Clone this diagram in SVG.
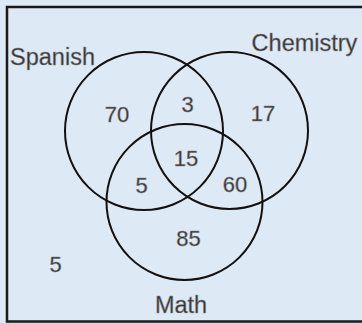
<svg xmlns="http://www.w3.org/2000/svg" width="362" height="323" viewBox="0 0 362 323">
<style>
.c{fill:none;stroke:#111;stroke-width:2}
.t{font-family:"Liberation Sans",Arial,sans-serif;font-size:22px;fill:#333;stroke:#8a8a8a;stroke-width:0.5;text-anchor:middle}
.l{font-size:23.5px}
</style>
<rect x="0" y="0" width="362" height="323" fill="#dde9f5"/>
<rect id="frame" x="7" y="7" width="370" height="314.5" fill="#dde9f5" stroke="#1a1a1a" stroke-width="2.5"/>
<g id="connectors"></g>
<g id="spanish"><circle class="c" cx="144" cy="131" r="79"/><text class="t l" x="52.5" y="65">Spanish</text></g>
<g id="chemistry"><circle class="c" cx="229.5" cy="130.5" r="78.5"/><text class="t l" x="304.5" y="51">Chemistry</text></g>
<g id="math"><circle class="c" cx="184.5" cy="202" r="78"/><text class="t l" x="181" y="313">Math</text></g>
<g id="regions">
<text class="t" x="117" y="122">70</text>
<text class="t" x="187.5" y="112">3</text>
<text class="t" x="263" y="121">17</text>
<text class="t" x="186" y="166">15</text>
<text class="t" x="141.5" y="193">5</text>
<text class="t" x="235" y="192">60</text>
<text class="t" x="188.5" y="246">85</text>
<text class="t" x="55.5" y="272">5</text>
</g>
</svg>
